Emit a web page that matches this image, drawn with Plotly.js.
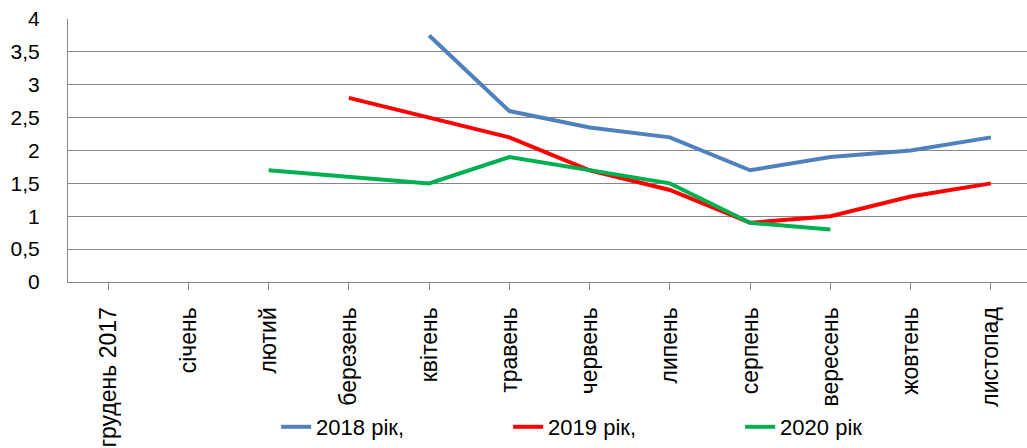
<!DOCTYPE html>
<html>
<head>
<meta charset="utf-8">
<script src="https://cdn.plot.ly/plotly-3.0.1.min.js"></script>
<style>html,body{margin:0;padding:0;background:#fff;}#chart{width:1027px;height:448px;}</style>
</head>
<body>
<div id="chart"></div>
<script>
const months = ["грудень 2017","січень","лютий","березень","квітень","травень","червень","липень","серпень","вересень","жовтень","листопад"];
const series2018 = [null,null,null,null,3.75,2.6,2.35,2.2,1.7,1.9,2.0,2.2];
const series2019 = [null,null,null,2.8,2.5,2.2,1.7,1.4,0.9,1.0,1.3,1.5];
const series2020 = [null,null,1.7,1.6,1.5,1.9,1.7,1.5,0.9,0.8,null,null];
const seriesNames = ["2018 рік,","2019 рік,","2020 рік"];
const yTickVals = [0,0.5,1,1.5,2,2.5,3,3.5,4];
const yTickText = ["0","0,5","1","1,5","2","2,5","3","3,5","4"];

const colors = ["#4F81BD","#FF0000","#00B050"];
const data = [series2018, series2019, series2020].map((ys,i)=>({
  type:'scatter', mode:'lines', x: months, y: ys, name: seriesNames[i],
  line:{color:colors[i], width:4}, connectgaps:false, hoverinfo:'skip'
}));

const layout = {
  width:1027, height:448,
  margin:{l:68, r:0, t:19, b:165},
  paper_bgcolor:'#fff', plot_bgcolor:'#fff',
  font:{family:'Liberation Sans, Arial, sans-serif', color:'#000'},
  separators:', ',
  showlegend:true,
  legend:{orientation:'h', x:0.217, xanchor:'left', y:-0.55, yanchor:'middle',
    font:{size:22, family:'Liberation Sans Narrow, Liberation Sans, sans-serif', color:'#000'},
    entrywidth:187, entrywidthmode:'pixels', bgcolor:'rgba(0,0,0,0)', tracegroupgap:0},
  xaxis:{type:'category', range:[-0.5,11.45], showgrid:false, zeroline:false,
    showline:true, linecolor:'#868686', linewidth:1,
    ticks:'outside', ticklen:7, tickcolor:'#868686', tickwidth:1,
    tickangle:-90, tickfont:{size:23, color:'#000'}, ticklabelstandoff:8, fixedrange:true},
  yaxis:{range:[0,4], tickvals:yTickVals, ticktext:yTickText,
    showgrid:true, gridcolor:'#868686', gridwidth:1, zeroline:false,
    showline:true, linecolor:'#868686', linewidth:1, ticks:'',
    tickfont:{size:21, color:'#000'}, ticklabelstandoff:23, fixedrange:true}
};
Plotly.newPlot('chart', data, layout, {staticPlot:true, displayModeBar:false});
</script>
</body>
</html>
